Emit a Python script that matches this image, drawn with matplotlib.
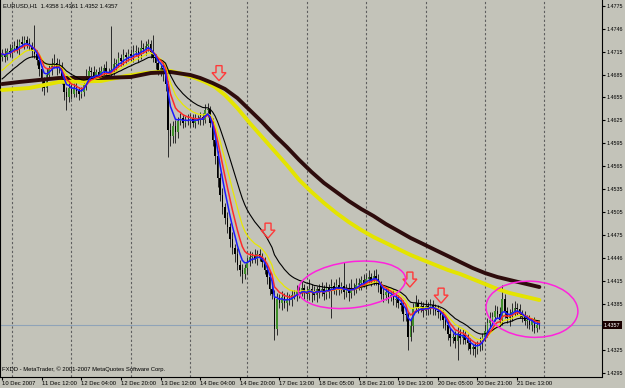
import numpy as np
import pandas as pd
import matplotlib
matplotlib.use("Agg")
import matplotlib.pyplot as plt
from matplotlib.patches import Ellipse, Polygon
from matplotlib.transforms import Affine2D, ScaledTranslation, blended_transform_factory

# ---------------- data (EURUSD H1) ----------------
first_open = 1.4708
closes = [
    1.4712, 1.4708, 1.4716, 1.4714, 1.4720, 1.4722, 1.4719, 1.4727, 1.4725, 1.4730,
    1.4726, 1.4722, 1.4716, 1.4712, 1.4704, 1.4692, 1.4676, 1.4668, 1.4684, 1.4692,
    1.4698, 1.4700, 1.4693, 1.4696, 1.4680, 1.4662, 1.4655, 1.4668, 1.4660, 1.4668,
    1.4664, 1.4660, 1.4662, 1.4672, 1.4683, 1.4690, 1.4688, 1.4682, 1.4688, 1.4684,
    1.4690, 1.4694, 1.4688, 1.4686, 1.4691, 1.4699, 1.4700, 1.4706, 1.4703, 1.4710,
    1.4708, 1.4712, 1.4709, 1.4714, 1.4716, 1.4711, 1.4720, 1.4718, 1.4722, 1.4725,
    1.4714, 1.4706, 1.4700, 1.4690, 1.4693, 1.4686, 1.4672, 1.4612, 1.4605, 1.4618,
    1.4610, 1.4624, 1.4628, 1.4622, 1.4626, 1.4624, 1.4628, 1.4622, 1.4627, 1.4625,
    1.4630, 1.4626, 1.4638, 1.4640, 1.4622, 1.4600, 1.4578, 1.4550, 1.4528, 1.4512,
    1.4498, 1.4485, 1.4470, 1.4458, 1.4450, 1.4436, 1.4430, 1.4424, 1.4432, 1.4440,
    1.4446, 1.4448, 1.4444, 1.4450, 1.4446, 1.4440, 1.4430, 1.4420, 1.4405, 1.4398,
    1.4352, 1.4392, 1.4386, 1.4394, 1.4386, 1.4392, 1.4390, 1.4396, 1.4398, 1.4402,
    1.4400, 1.4406, 1.4402, 1.4398, 1.4405, 1.4400, 1.4396, 1.4404, 1.4400, 1.4404,
    1.4398, 1.4406, 1.4402, 1.4408, 1.4404, 1.4410, 1.4404, 1.4408, 1.4400, 1.4404,
    1.4399, 1.4406, 1.4404, 1.4410, 1.4412, 1.4416, 1.4413, 1.4418, 1.4420, 1.4416,
    1.4422, 1.4418, 1.4410, 1.4398, 1.4396, 1.4400, 1.4394, 1.4396, 1.4390, 1.4392,
    1.4386, 1.4384, 1.4372, 1.4370, 1.4342, 1.4356, 1.4380, 1.4386, 1.4380, 1.4382,
    1.4376, 1.4382, 1.4378, 1.4384, 1.4380, 1.4376, 1.4374, 1.4370, 1.4364, 1.4358,
    1.4346, 1.4340, 1.4342, 1.4336, 1.4346, 1.4340, 1.4344, 1.4338, 1.4334, 1.4326,
    1.4328, 1.4326, 1.4330, 1.4334, 1.4342, 1.4350, 1.4360, 1.4364, 1.4368, 1.4376,
    1.4372, 1.4364, 1.4391, 1.4376, 1.4366, 1.4370, 1.4374, 1.4380, 1.4378, 1.4372,
    1.4368, 1.4362, 1.4364, 1.4358, 1.4362, 1.4354, 1.4358, 1.4357,
]
hi_wick_pips = [
    6, 8, 4, 9, 5, 7, 10, 4, 8, 6,
    5, 7, 6, 34, 5, 8, 4, 6, 9, 5,
    8, 12, 6, 9, 5, 4, 7, 10, 5, 6,
    8, 5, 7, 6, 9, 6, 5, 8, 4, 7,
    6, 5, 9, 6, 57, 7, 5, 9, 6, 8,
    5, 7, 6, 9, 8, 5, 10, 6, 7, 6,
    5, 23, 6, 7, 5, 8, 6, 4, 9, 6,
    8, 5, 7, 6, 5, 8, 6, 5, 7, 5,
    6, 5, 9, 8, 4, 6, 5, 7, 6, 8,
    5, 7, 6, 9, 5, 8, 6, 7, 5, 6,
    8, 5, 9, 6, 7, 5, 6, 4, 8, 6,
    5, 7, 6, 8, 5, 9, 6, 7, 5, 8,
    6, 9, 5, 7, 12, 6, 8, 5, 7, 10,
    6, 8, 5, 9, 6, 7, 10, 6, 32, 7,
    8, 12, 6, 9, 7, 5, 8, 6, 10, 5,
    7, 9, 6, 5, 8, 6, 7, 5, 9, 6,
    5, 7, 6, 8, 5, 9, 6, 10, 5, 7,
    6, 8, 5, 7, 6, 5, 8, 6, 7, 5,
    6, 8, 5, 7, 9, 6, 8, 5, 7, 6,
    5, 7, 6, 8, 5, 9, 6, 10, 7, 8,
    6, 9, 19, 7, 5, 8, 12, 9, 6, 7,
    5, 8, 6, 7, 5, 6, 4, 3,
]
lo_wick_pips = [
    5, 7, 4, 6, 8, 5, 6, 9, 4, 7,
    6, 5, 8, 6, 7, 9, 12, 10, 6, 5,
    7, 5, 9, 6, 8, 10, 16, 6, 7, 5,
    8, 8, 6, 5, 7, 6, 8, 5, 6, 7,
    5, 7, 6, 8, 5, 6, 9, 5, 7, 6,
    8, 5, 6, 7, 5, 9, 6, 5, 8, 6,
    7, 5, 8, 6, 7, 9, 8, 35, 14, 10,
    15, 8, 5, 7, 6, 5, 8, 6, 7, 5,
    6, 7, 5, 8, 6, 9, 10, 12, 8, 10,
    9, 7, 11, 8, 10, 7, 9, 12, 6, 8,
    5, 7, 6, 8, 5, 7, 6, 9, 8, 7,
    14, 8, 6, 9, 7, 10, 6, 8, 5, 9,
    7, 5, 10, 6, 8, 12, 6, 9, 7, 5,
    8, 6, 9, 35, 6, 7, 8, 5, 9, 6,
    10, 6, 8, 5, 7, 9, 6, 8, 5, 7,
    6, 8, 10, 7, 9, 6, 8, 5, 7, 9,
    6, 8, 10, 7, 17, 6, 8, 5, 7, 6,
    8, 5, 7, 6, 9, 5, 8, 6, 10, 7,
    8, 10, 6, 9, 24, 7, 8, 6, 9, 7,
    8, 10, 6, 7, 9, 5, 8, 6, 7, 5,
    6, 8, 7, 9, 6, 10, 7, 5, 8, 6,
    7, 5, 8, 6, 9, 7, 6, 5,
]

# slow averages (bar index, price)
slow_yellow_bars = [0, 11, 23, 40, 50, 58, 68, 73, 78, 82, 86, 90, 95, 100, 105,
                    110, 115, 120, 125, 130, 135, 140, 145, 150, 155, 160, 165,
                    170, 175, 180, 185, 190, 195, 200, 205, 210, 217]
slow_yellow_vals = [1.46648, 1.46674, 1.46753, 1.46766, 1.46831, 1.46870, 1.46896,
                    1.46857, 1.46805, 1.46753, 1.46687, 1.46582, 1.46412, 1.46216,
                    1.46033, 1.45850, 1.45667, 1.45471, 1.45314, 1.45170, 1.45039,
                    1.44921, 1.44817, 1.44725, 1.44647, 1.44568, 1.44490, 1.44424,
                    1.44359, 1.44294, 1.44241, 1.44176, 1.44111, 1.44045, 1.43993,
                    1.43954, 1.43901]
slow_brown_bars = [0, 7, 15, 23, 40, 52, 60, 68, 76, 80, 85, 90, 95, 100, 105,
                   110, 115, 120, 125, 130, 135, 140, 145, 150, 155, 160, 165,
                   170, 175, 180, 185, 190, 195, 200, 205, 210, 217]
slow_brown_vals = [1.46726, 1.46753, 1.46779, 1.46805, 1.46805, 1.46818, 1.46870,
                   1.46883, 1.46844, 1.46805, 1.46739, 1.46661, 1.46543, 1.46386,
                   1.46229, 1.46059, 1.45902, 1.45732, 1.45575, 1.45432, 1.45314,
                   1.45196, 1.45092, 1.45000, 1.44895, 1.44804, 1.44712, 1.44634,
                   1.44555, 1.44477, 1.44398, 1.44320, 1.44254, 1.44202, 1.44163,
                   1.44124, 1.44071]
ema13_seed = 1.4687
ema21_seed = 1.4676

time_label_bars = [0, 16, 32, 48, 64, 80, 96, 112, 128, 144, 160, 176, 192, 208]
time_labels = ["10 Dec 2007", "11 Dec 12:00", "12 Dec 04:00", "12 Dec 20:00",
               "13 Dec 12:00", "14 Dec 04:00", "14 Dec 20:00", "17 Dec 13:00",
               "18 Dec 05:00", "18 Dec 21:00", "19 Dec 13:00", "20 Dec 05:00",
               "20 Dec 21:00", "21 Dec 13:00"]
day_sep_bars = [4, 28, 52, 76, 99, 123, 147, 171, 195, 219]
price_ticks = [1.4775, 1.4745, 1.4715, 1.4685, 1.4655, 1.4625, 1.4595, 1.4565,
               1.4535, 1.4505, 1.4475, 1.4445, 1.4415, 1.4385, 1.4325, 1.4295]
price_tick_labels = ["1.4775", "1.4746", "1.4715", "1.4685", "1.4655", "1.4625",
                     "1.4595", "1.4565", "1.4535", "1.4505", "1.4475", "1.4446",
                     "1.4415", "1.4385", "1.4325", "1.4295"]
last_price = 1.4357
header = "EURUSD,H1  1.4358 1.4361 1.4352 1.4357"
footer = "FXDD - MetaTrader, \u00a9 2001-2007 MetaQuotes Software Corp."

arrow_tips = [(87.6, 1.4677), (107.4, 1.4471), (164.7, 1.4407), (177.3, 1.4386)]
ellipse_centers = [(141.3, 1.4410), (214.0, 1.4378)]
ellipse_sizes = [(108, 46, 7), (92, 56, -4)]

# ---------------- figure ----------------
plt.rcParams['font.family'] = ['Liberation Sans', 'DejaVu Sans']
bg = '#c3c3b9'
fig = plt.figure(figsize=(6.25, 3.88), dpi=100)
fig.patch.set_facecolor(bg)
ax = fig.add_axes([0, 11 / 388, 601.5 / 625, 377 / 388])
ax.set_facecolor(bg)

c = np.array(closes)
o = np.r_[first_open, c[:-1]]
x = np.arange(len(c))
hi = np.maximum(o, c) + np.array(hi_wick_pips) * 1e-4
lo = np.minimum(o, c) - np.array(lo_wick_pips) * 1e-4

for b in day_sep_bars:
    ax.axvline(b, color='#5e5e5e', lw=0.8, ls=(0, (2, 2)), zorder=1)
ax.axhline(last_price, color='#8fa3b8', lw=0.8, zorder=1.5)

ax.vlines(x, lo, hi, color='#2a2a2a', lw=0.7, zorder=2)
up = c >= o
h = np.maximum(np.abs(c - o), 0.00003)
ax.bar(x[up], h[up], bottom=np.minimum(o, c)[up], width=0.62,
       color='#3f8f2a', edgecolor='none', zorder=2.2)
ax.bar(x[~up], h[~up], bottom=np.minimum(o, c)[~up], width=0.62,
       color='#000000', edgecolor='none', zorder=2.2)

cs = pd.Series(c)
blue = cs.ewm(span=5, adjust=False).mean()
red = cs.ewm(span=8, adjust=False).mean()
ema13 = pd.Series(np.r_[ema13_seed, c]).ewm(span=13, adjust=False).mean().values[1:]
ema21 = pd.Series(np.r_[ema21_seed, c]).ewm(span=21, adjust=False).mean().values[1:]

ax.plot(slow_yellow_bars, slow_yellow_vals, color='#e4e400', lw=2.8,
        solid_capstyle='round', solid_joinstyle='round', zorder=3)
ax.plot(slow_brown_bars, slow_brown_vals, color='#2e0c0c', lw=2.8,
        solid_capstyle='round', solid_joinstyle='round', zorder=3.1)
ax.plot(x, ema13, color='#e8e800', lw=0.9, zorder=4)
ax.plot(x, ema21, color='#000000', lw=0.8, zorder=4.1)
ax.plot(x, red, color='#ff2a2a', lw=1.1, zorder=4.2)
ax.plot(x, blue, color='#1a1aff', lw=1.1, zorder=4.3)

# annotations (sizes in pixels, anchored at data points)
arrow_shape = [(0, 0), (-7, 8), (-3, 8), (-3, 15), (3, 15), (3, 8), (7, 8)]
for bx, by in arrow_tips:
    tr = Affine2D() + ScaledTranslation(bx, by, ax.transData)
    ax.add_patch(Polygon(arrow_shape, closed=True, fc='none', ec='#ff3a3a',
                         lw=1.0, transform=tr, zorder=6, clip_on=False))
for (cx, cy), (w, hh, ang) in zip(ellipse_centers, ellipse_sizes):
    tr = Affine2D() + ScaledTranslation(cx, cy, ax.transData)
    ax.add_patch(Ellipse((0, 0), w, hh, angle=ang, fill=False, ec='#ff22dd',
                         lw=1.1, transform=tr, zorder=6, clip_on=False))

ax.set_xlim(-0.848, 242.08)
ax.set_ylim(1.42894, 1.47825)
ax.yaxis.tick_right()
ax.set_yticks(price_ticks)
ax.set_yticklabels(price_tick_labels)
ax.tick_params(axis='y', direction='out', length=2.5, width=0.8, pad=1.2,
               labelsize=3.9, colors='black')
ax.set_xticks(time_label_bars)
ax.set_xticklabels(time_labels, ha='left')
ax.tick_params(axis='x', direction='out', length=2, width=0.8, pad=1,
               labelsize=4.2, colors='black')
ax.spines['top'].set_visible(False)
for s in ['left', 'right', 'bottom']:
    ax.spines[s].set_color('black')
    ax.spines[s].set_linewidth(0.8)

trb = blended_transform_factory(ax.transAxes, ax.transData) + \
    ScaledTranslation(2.5 / 100, 0, fig.dpi_scale_trans)
ax.text(1.0, last_price, f"{last_price:.4f}", transform=trb, fontsize=3.9,
        color='white', va='center', ha='left', clip_on=False, zorder=7,
        bbox=dict(boxstyle='square,pad=0.25', fc='#1a0000', ec='none'))

fig.text(3 / 625, 1 - 6 / 388, header, fontsize=4.2, va='center', ha='left')
fig.text(2 / 625, 1 - 369 / 388, footer, fontsize=4.2, va='center', ha='left')

fig.savefig('out.png', dpi=100, facecolor=bg)
